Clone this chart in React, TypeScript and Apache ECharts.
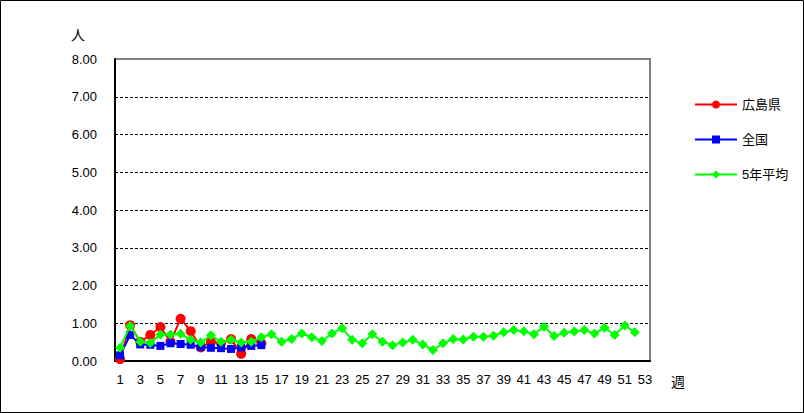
import React, { useEffect, useRef } from "react";
import * as echarts from "echarts";

const weeks: string[] = Array.from({ length: 53 }, (_, i) => String(i + 1));
const hiroshima: (number | null)[] = [0.05, 0.95, 0.51, 0.69, 0.9, 0.51, 1.12, 0.79, 0.36, 0.51, 0.47, 0.58, 0.19, 0.58, 0.47];
const national: (number | null)[] = [0.15, 0.69, 0.44, 0.43, 0.4, 0.47, 0.45, 0.43, 0.37, 0.35, 0.34, 0.32, 0.36, 0.4, 0.42];
const fiveYearAvg: (number | null)[] = [
  0.35, 0.93, 0.51, 0.48, 0.7, 0.7, 0.72, 0.56, 0.49, 0.68,
  0.51, 0.56, 0.49, 0.51, 0.63, 0.71, 0.51, 0.58, 0.73, 0.63,
  0.53, 0.73, 0.87, 0.56, 0.47, 0.71, 0.51, 0.42, 0.49, 0.56,
  0.44, 0.29, 0.47, 0.58, 0.57, 0.64, 0.64, 0.67, 0.76, 0.82,
  0.79, 0.71, 0.91, 0.66, 0.75, 0.78, 0.82, 0.73, 0.88, 0.69,
  0.94, 0.76, null,
];
const seriesNames = ["広島県", "全国", "5年平均"];
const yUnit = "人";
const xUnit = "週";

const FONT = "'Liberation Sans', 'Noto Sans CJK JP', sans-serif";

export default function App() {
  const ref = useRef<HTMLDivElement>(null);
  useEffect(() => {
    document.body.style.margin = "0";
    const chart = echarts.init(ref.current!, null, { renderer: "svg" });
    chart.setOption({
      animation: false,
      backgroundColor: "#ffffff",
      textStyle: { fontFamily: FONT },
      grid: {
        left: 115,
        right: 154,
        top: 59,
        bottom: 52,
        show: true,
        borderColor: "#808080",
        borderWidth: 2,
      },
      legend: {
        orient: "vertical",
        left: 689,
        top: 93,
        itemGap: 22,
        itemWidth: 42,
        itemHeight: 10,
        textStyle: { fontFamily: FONT, fontSize: 13, color: "#000" },
        data: seriesNames,
      },
      graphic: [
        {
          type: "rect",
          shape: { x: 0.5, y: 0.5, width: 803, height: 412 },
          style: { fill: "none", stroke: "#000", lineWidth: 1 },
          silent: true,
        },
        {
          type: "text",
          left: 71,
          top: 28,
          style: { text: yUnit, fontSize: 14, fontFamily: FONT, fill: "#000" },
        },
        {
          type: "text",
          left: 671,
          top: 375,
          style: { text: xUnit, fontSize: 14, fontFamily: FONT, fill: "#000" },
        },
      ],
      xAxis: {
        type: "category",
        data: weeks,
        boundaryGap: true,
        axisLine: { lineStyle: { color: "#000", width: 2 } },
        axisTick: { inside: true, length: 5, interval: 0, lineStyle: { color: "#000" } },
        axisLabel: { interval: 1, margin: 12, fontSize: 13, color: "#000", fontFamily: FONT },
        splitLine: { show: false },
      },
      yAxis: {
        type: "value",
        min: 0,
        max: 8,
        interval: 1,
        axisLine: { show: true, lineStyle: { color: "#000", width: 2 } },
        axisTick: { show: false },
        axisLabel: {
          margin: 18,
          fontSize: 13,
          color: "#000",
          fontFamily: FONT,
          formatter: (v: number) => v.toFixed(2),
        },
        splitLine: {
          show: true,
          showMinLine: false,
          showMaxLine: false,
          lineStyle: { color: "#000", type: [3, 2], width: 1 },
        },
      },
      series: [
        {
          name: seriesNames[0],
          type: "line",
          data: hiroshima,
          symbol: "circle",
          symbolSize: 10,
          showAllSymbol: true,
          itemStyle: { color: "#ff0000" },
          lineStyle: { color: "#ff0000", width: 2 },
          z: 2,
        },
        {
          name: seriesNames[1],
          type: "line",
          data: national,
          symbol: "rect",
          symbolSize: 8,
          showAllSymbol: true,
          itemStyle: { color: "#0000ff" },
          lineStyle: { color: "#0000ff", width: 2 },
          z: 3,
        },
        {
          name: seriesNames[2],
          type: "line",
          data: fiveYearAvg,
          symbol: "diamond",
          symbolSize: 10,
          showAllSymbol: true,
          itemStyle: { color: "#00ff00" },
          lineStyle: { color: "#00ff00", width: 2 },
          z: 4,
        },
      ],
    });
    return () => chart.dispose();
  }, []);
  return <div ref={ref} style={{ width: 804, height: 413 }} />;
}
